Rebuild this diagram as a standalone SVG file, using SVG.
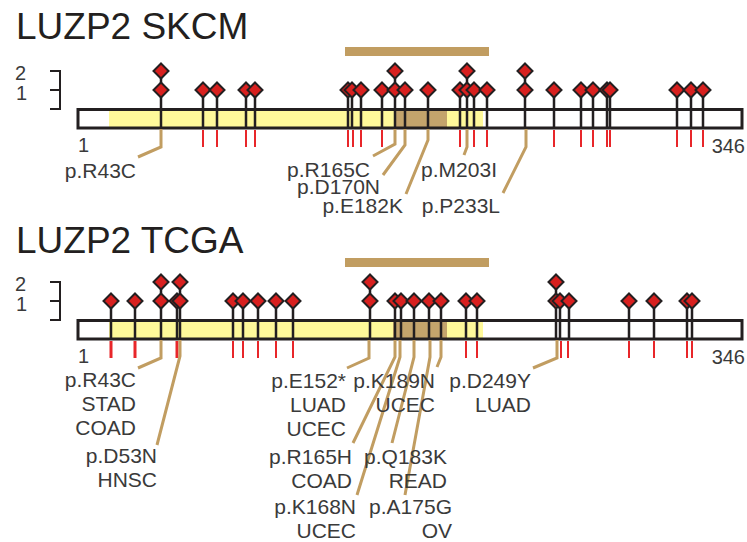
<svg xmlns="http://www.w3.org/2000/svg" xmlns:xlink="http://www.w3.org/1999/xlink" width="747" height="542" viewBox="0 0 747 542">
<style>
.title{font-family:"Liberation Sans",Arial,sans-serif;font-size:37px;fill:#231f20}
.lbl{font-family:"Liberation Sans",Arial,sans-serif;font-size:21px;fill:#3a3a3a}
.num{font-family:"Liberation Sans",Arial,sans-serif;font-size:20px;fill:#3a3a3a}
.end{text-anchor:end}
.bar{fill:none;stroke:#231f20;stroke-width:3}
.bg{fill:#ffffff}
.yel{fill:#fff99a}
.dom{fill:#c4a46c}
.hl{fill:#c19d61}
.stem{stroke:#231f20;stroke-width:2.5}
.tick{stroke:#e8262a;stroke-width:2}
.brk{fill:none;stroke:#231f20;stroke-width:2}
.lead{fill:none;stroke:#c19d61;stroke-width:3}
.dia{fill:#d8201f;stroke:#231f20;stroke-width:2}
</style>
<defs>
<path id="d" class="dia" d="M0,-7.5 L7.5,0 L0,7.5 L-7.5,0Z"/>
</defs>

<!-- ================= SKCM ================= -->
<g id="skcm-title"><text class="title" x="16" y="39">LUZP2 SKCM</text></g>
<g id="skcm-scale">
<text class="num" x="15" y="80">2</text>
<text class="num" x="16" y="100">1</text>
<path class="brk" d="M50,71 H60 V109 H50 M50,90 H60"/>
</g>
<g id="skcm-highlight"><rect class="hl" x="345" y="47" width="144" height="9"/></g>
<g id="skcm-protein">
<rect class="bg" x="78" y="109.5" width="664" height="18.5"/>
<rect class="yel" x="109" y="109.5" width="374" height="18.5"/>
<rect class="dom" x="394" y="109.5" width="53" height="18.5"/>
<g id="skcm-stems">
<path class="stem" d="M161,71V128 M203,90V128 M217,90V128 M246,90V128 M255,90V128 M348,90V128 M352,90V128 M361,90V128 M382,90V128 M395,71V128 M405,90V128 M428,90V128 M460,90V128 M467,71V128 M474,90V128 M487,90V128 M525,71V128 M554,90V128 M581,90V128 M593,90V128 M607,90V128 M610,90V128 M677,90V128 M691,90V128 M703,90V128"/>
</g>
<rect class="bar" x="78" y="109.5" width="664" height="18.5"/>
<text class="num" x="78" y="152">1</text>
<text class="num end" x="745" y="153">346</text>
</g>
<g id="skcm-ticks">
<path class="tick" d="M203,130V147 M217,130V147 M246,130V147 M255,130V147 M348,130V147 M353,130V147 M361,130V147 M382,130V147 M460,130V147 M474,130V147 M487,130V147 M554,130V147 M581,130V147 M593,130V147 M607,130V147 M610,130V147 M677,130V147 M691,130V147 M703,130V147"/>
</g>
<g id="skcm-diamonds">
<use xlink:href="#d" x="161" y="90"/><use xlink:href="#d" x="161" y="71"/>
<use xlink:href="#d" x="203" y="90"/><use xlink:href="#d" x="217" y="90"/>
<use xlink:href="#d" x="246" y="90"/><use xlink:href="#d" x="255" y="90"/>
<use xlink:href="#d" x="348" y="90"/><use xlink:href="#d" x="352" y="90"/><use xlink:href="#d" x="361" y="90"/>
<use xlink:href="#d" x="382" y="90"/><use xlink:href="#d" x="395" y="90"/><use xlink:href="#d" x="395" y="71"/>
<use xlink:href="#d" x="405" y="90"/><use xlink:href="#d" x="428" y="90"/>
<use xlink:href="#d" x="460" y="90"/><use xlink:href="#d" x="467" y="90"/><use xlink:href="#d" x="467" y="71"/>
<use xlink:href="#d" x="474" y="90"/><use xlink:href="#d" x="487" y="90"/>
<use xlink:href="#d" x="525" y="90"/><use xlink:href="#d" x="525" y="71"/>
<use xlink:href="#d" x="554" y="90"/><use xlink:href="#d" x="581" y="90"/><use xlink:href="#d" x="593" y="90"/>
<use xlink:href="#d" x="607" y="90"/><use xlink:href="#d" x="610" y="90"/>
<use xlink:href="#d" x="677" y="90"/><use xlink:href="#d" x="691" y="90"/><use xlink:href="#d" x="703" y="90"/>
</g>
<g id="skcm-connectors">
<path class="lead" d="M161,129V147L138,157"/>
<path class="lead" d="M395,129V144L373,156"/>
<path class="lead" d="M405,129V145L383,175"/>
<path class="lead" d="M428,129V140L406,194"/>
<path class="lead" d="M467,129V147L464,155"/>
<path class="lead" d="M526,129V147L503,193"/>
</g>
<g id="skcm-R43C"><text class="lbl end" x="136" y="178">p.R43C</text></g>
<g id="skcm-R165C"><text class="lbl end" x="370" y="177">p.R165C</text></g>
<g id="skcm-D170N"><text class="lbl end" x="380" y="194">p.D170N</text></g>
<g id="skcm-E182K"><text class="lbl end" x="403" y="213">p.E182K</text></g>
<g id="skcm-M203I"><text class="lbl end" x="497" y="177">p.M203I</text></g>
<g id="skcm-P233L"><text class="lbl end" x="500" y="213">p.P233L</text></g>

<!-- ================= TCGA ================= -->
<g id="tcga-title"><text class="title" x="16" y="253">LUZP2 TCGA</text></g>
<g id="tcga-scale">
<text class="num" x="15" y="291">2</text>
<text class="num" x="16" y="311">1</text>
<path class="brk" d="M50,282 H60 V320 H50 M50,301 H60"/>
</g>
<g id="tcga-highlight"><rect class="hl" x="345" y="258" width="144" height="9"/></g>
<g id="tcga-protein">
<rect class="bg" x="78" y="320.5" width="664" height="18.5"/>
<rect class="yel" x="109" y="320.5" width="374" height="18.5"/>
<rect class="dom" x="393" y="320.5" width="54" height="18.5"/>
<g id="tcga-stems">
<path class="stem" d="M111,301V339 M135,301V339 M161,282V339 M177,301V339 M180,282V339 M233,301V339 M243,301V339 M258,301V339 M276,301V339 M293,301V339 M370,282V339 M395,301V339 M401,301V339 M414,301V339 M429,301V339 M441,301V339 M466,301V339 M477,301V339 M556,282V339 M560,301V339 M569,301V339 M629,301V339 M654,301V339 M687,301V339 M692,301V339"/>
</g>
<rect class="bar" x="78" y="320.5" width="664" height="18.5"/>
<text class="num" x="78" y="363">1</text>
<text class="num end" x="745" y="364">346</text>
</g>
<g id="tcga-ticks">
<path class="tick" style="stroke-width:3" d="M111,341V358 M135,341V358 M177,341V358"/>
<path class="tick" d="M233,341V358 M243,341V358 M258,341V358 M276,341V358 M293,341V358 M466,341V358 M477,341V358 M561,341V358 M568,341V358 M629,341V358 M654,341V358 M687,341V358 M692,341V358"/>
</g>
<g id="tcga-diamonds">
<use xlink:href="#d" x="111" y="301"/><use xlink:href="#d" x="135" y="301"/>
<use xlink:href="#d" x="161" y="301"/><use xlink:href="#d" x="161" y="282"/>
<use xlink:href="#d" x="177" y="301"/><use xlink:href="#d" x="180" y="301"/><use xlink:href="#d" x="180" y="282"/>
<use xlink:href="#d" x="233" y="301"/><use xlink:href="#d" x="243" y="301"/>
<use xlink:href="#d" x="258" y="301"/><use xlink:href="#d" x="276" y="301"/><use xlink:href="#d" x="293" y="301"/>
<use xlink:href="#d" x="370" y="301"/><use xlink:href="#d" x="370" y="282"/>
<use xlink:href="#d" x="395" y="301"/><use xlink:href="#d" x="401" y="301"/>
<use xlink:href="#d" x="414" y="301"/><use xlink:href="#d" x="429" y="301"/><use xlink:href="#d" x="441" y="301"/>
<use xlink:href="#d" x="466" y="301"/><use xlink:href="#d" x="477" y="301"/>
<use xlink:href="#d" x="556" y="301"/><use xlink:href="#d" x="556" y="282"/>
<use xlink:href="#d" x="560" y="301"/><use xlink:href="#d" x="569" y="301"/>
<use xlink:href="#d" x="629" y="301"/><use xlink:href="#d" x="654" y="301"/>
<use xlink:href="#d" x="687" y="301"/><use xlink:href="#d" x="692" y="301"/>
</g>
<g id="tcga-connectors">
<path class="lead" d="M161,340V358L138,368"/>
<path class="lead" d="M180,340V356L157,445"/>
<path class="lead" d="M369,340V358L347,368"/>
<path class="lead" d="M395,340V357L353,443"/>
<path class="lead" d="M400,340V357L357,495"/>
<path class="lead" d="M414,340V357L392,443"/>
<path class="lead" d="M430,340V357L405,495"/>
<path class="lead" d="M441,340V357L437,367"/>
<path class="lead" d="M557,340V358L533,368"/>
</g>
<g id="tcga-R43C"><text class="lbl end" x="136" y="387">p.R43C</text><text class="lbl end" x="136" y="411">STAD</text><text class="lbl end" x="136" y="435">COAD</text></g>
<g id="tcga-D53N"><text class="lbl end" x="157" y="463">p.D53N</text><text class="lbl end" x="157" y="487">HNSC</text></g>
<g id="tcga-E152"><text class="lbl end" x="346" y="388">p.E152*</text><text class="lbl end" x="346" y="412">LUAD</text><text class="lbl end" x="346" y="436">UCEC</text></g>
<g id="tcga-K189N"><text class="lbl end" x="435" y="388">p.K189N</text><text class="lbl end" x="435" y="412">UCEC</text></g>
<g id="tcga-D249Y"><text class="lbl end" x="531" y="388">p.D249Y</text><text class="lbl end" x="531" y="412">LUAD</text></g>
<g id="tcga-R165H"><text class="lbl end" x="352" y="464">p.R165H</text><text class="lbl end" x="352" y="488">COAD</text></g>
<g id="tcga-Q183K"><text class="lbl end" x="447" y="464">p.Q183K</text><text class="lbl end" x="447" y="488">READ</text></g>
<g id="tcga-K168N"><text class="lbl end" x="356" y="514">p.K168N</text><text class="lbl end" x="356" y="538">UCEC</text></g>
<g id="tcga-A175G"><text class="lbl end" x="452" y="514">p.A175G</text><text class="lbl end" x="452" y="538">OV</text></g>
</svg>
